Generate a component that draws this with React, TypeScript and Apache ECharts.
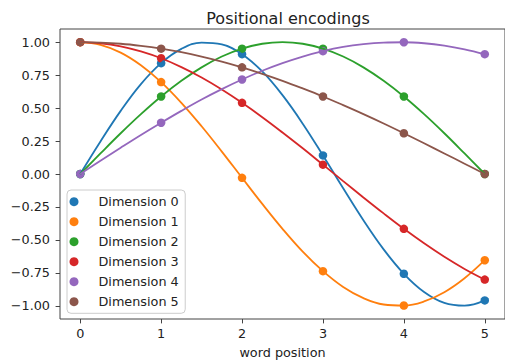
import React, { useEffect, useRef } from "react";
import * as echarts from "echarts";

const names = ["Dimension 0", "Dimension 1", "Dimension 2", "Dimension 3", "Dimension 4", "Dimension 5"];
const colors = ["#1f77b4", "#ff7f0e", "#2ca02c", "#d62728", "#9467bd", "#8c564b"];

// dot positions and values
const positions = [0, 1, 2, 3, 4, 5];
const dim0Dots = [0, 0.841, 0.909, 0.141, -0.757, -0.959];
const dim1Dots = [1, 0.697, -0.029, -0.737, -0.998, -0.654];
const dim2Dots = [0, 0.588, 0.951, 0.951, 0.588, 0];
const dim3Dots = [1, 0.878, 0.54, 0.071, -0.416, -0.801];
const dim4Dots = [0, 0.389, 0.717, 0.932, 0.9996, 0.909];
const dim5Dots = [1, 0.951, 0.809, 0.588, 0.309, 0];

// curve samples
const curveX = [0, 0.25, 0.5, 0.75, 1, 1.25, 1.5, 1.75, 2, 2.25, 2.5, 2.75, 3, 3.25, 3.5, 3.75, 4, 4.25, 4.5, 4.75, 5];
const dim0Curve = [0, 0.247, 0.479, 0.682, 0.841, 0.949, 0.997, 0.984, 0.909, 0.778, 0.598, 0.382, 0.141, -0.108, -0.351, -0.572, -0.757, -0.895, -0.978, -0.999, -0.959];
const dim1Curve = [1, 0.98, 0.921, 0.825, 0.697, 0.54, 0.362, 0.17, -0.029, -0.227, -0.416, -0.589, -0.737, -0.857, -0.942, -0.99, -0.998, -0.967, -0.897, -0.791, -0.654];
const dim2Curve = [0, 0.156, 0.309, 0.454, 0.588, 0.707, 0.809, 0.891, 0.951, 0.988, 1, 0.988, 0.951, 0.891, 0.809, 0.707, 0.588, 0.454, 0.309, 0.156, 0];
const dim3Curve = [1, 0.992, 0.969, 0.93, 0.878, 0.811, 0.732, 0.641, 0.54, 0.431, 0.315, 0.195, 0.071, -0.054, -0.178, -0.299, -0.416, -0.526, -0.628, -0.72, -0.801];
const dim4Curve = [0, 0.1, 0.199, 0.296, 0.389, 0.479, 0.565, 0.644, 0.717, 0.783, 0.841, 0.891, 0.932, 0.964, 0.985, 0.997, 0.9996, 0.992, 0.974, 0.946, 0.909];
const dim5Curve = [1, 0.997, 0.988, 0.972, 0.951, 0.924, 0.891, 0.853, 0.809, 0.76, 0.707, 0.649, 0.588, 0.522, 0.454, 0.383, 0.309, 0.233, 0.156, 0.078, 0];

const xTicks = [0, 1, 2, 3, 4, 5];
const yTicks = [-1, -0.75, -0.5, -0.25, 0, 0.25, 0.5, 0.75, 1];

const dots = [dim0Dots, dim1Dots, dim2Dots, dim3Dots, dim4Dots, dim5Dots];
const curves = [dim0Curve, dim1Curve, dim2Curve, dim3Curve, dim4Curve, dim5Curve];

const FONT = "DejaVu Sans";

export default function App() {
  const ref = useRef<HTMLDivElement>(null);
  useEffect(() => {
    if (!ref.current) return;
    const chart = echarts.init(ref.current, null, { renderer: "svg" });
    const series: any[] = [];
    for (let i = 0; i < 6; i++) {
      series.push({
        type: "line",
        name: "curve" + i,
        data: curveX.map((x, j) => [x, curves[i][j]]),
        smooth: 0.4,
        showSymbol: false,
        symbol: "none",
        lineStyle: { color: colors[i], width: 1.8 },
        itemStyle: { color: colors[i] },
        silent: true,
      });
      series.push({
        type: "scatter",
        name: names[i],
        data: positions.map((x, j) => [x, dots[i][j]]),
        symbolSize: 8.5,
        itemStyle: { color: colors[i], opacity: 1 },
      });
    }
    chart.setOption({
      animation: false,
      title: {
        text: "Positional encodings",
        left: 283,
        textAlign: "center",
        top: 5,
        textStyle: { fontFamily: FONT, fontSize: 16, fontWeight: "normal", color: "#222" },
      },
      grid: {
        left: 60,
        top: 29,
        right: -2,
        bottom: 43.5,
        show: true,
        borderColor: "#444",
        borderWidth: 1,
        containLabel: false,
      },
      legend: {
        orient: "vertical",
        left: 67,
        top: 190,
        data: names,
        icon: "circle",
        itemWidth: 30,
        itemHeight: 9,
        itemGap: 6,
        padding: [4.7, 6.5, 4.6, 2.5],
        borderColor: "#cccccc",
        borderWidth: 1,
        borderRadius: 4,
        backgroundColor: "rgba(255,255,255,0.8)",
        textStyle: { fontFamily: FONT, fontSize: 12.8, color: "#222", lineHeight: 14, padding: [0, 0, 0, 4.5] },
      },
      xAxis: {
        type: "value",
        min: -0.25,
        max: 5.25,
        splitLine: { show: false },
        axisLine: { show: false, onZero: false },
        axisTick: { show: true, inside: false, length: 4.4, customValues: xTicks, lineStyle: { color: "#444" } },
        axisLabel: {
          customValues: xTicks,
          margin: 8,
          fontFamily: FONT,
          fontSize: 12.8,
          color: "#222",
          formatter: (v: number) => String(v),
        },
        name: "word position",
        nameLocation: "middle",
        nameGap: 27,
        nameTextStyle: { fontFamily: FONT, fontSize: 12.8, color: "#222" },
      },
      yAxis: {
        type: "value",
        min: -1.1,
        max: 1.1,
        splitLine: { show: false },
        axisLine: { show: false, onZero: false },
        axisTick: { show: true, inside: false, length: 4.4, customValues: yTicks, lineStyle: { color: "#444" } },
        axisLabel: {
          customValues: yTicks,
          margin: 10,
          fontFamily: FONT,
          fontSize: 12.8,
          color: "#222",
          formatter: (v: number) => v.toFixed(2).replace("-", "\u2212"),
        },
      },
      series,
    });
    return () => chart.dispose();
  }, []);
  return <div ref={ref} style={{ position: "absolute", left: 0, top: 0, width: 505, height: 364 }} />;
}
